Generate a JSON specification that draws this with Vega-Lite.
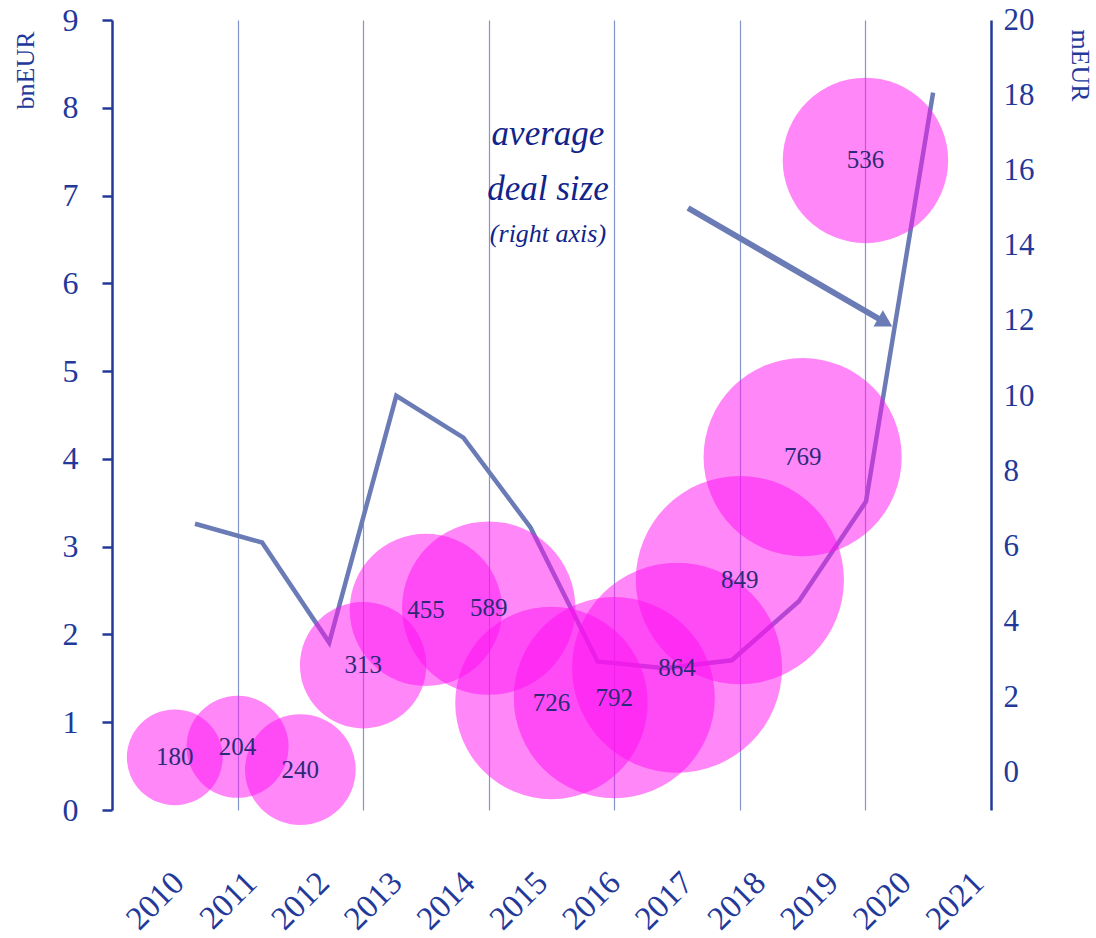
{
  "$schema": "https://vega.github.io/schema/vega-lite/v6.json",
  "width": 879,
  "height": 790,
  "autosize": {"type": "none"},
  "padding": {"left": 112, "top": 20, "right": 105, "bottom": 128},
  "background": "white",
  "config": {"view": {"stroke": null}, "font": "Liberation Serif"},
  "datasets": {
    "deals": [
      {"year": 2010, "value": 0.60, "count": 180, "avg": 6.61},
      {"year": 2011, "value": 0.72, "count": 204, "avg": 6.11},
      {"year": 2012, "value": 0.46, "count": 240, "avg": 3.45},
      {"year": 2013, "value": 1.65, "count": 313, "avg": 10.01},
      {"year": 2014, "value": 2.28, "count": 455, "avg": 8.90},
      {"year": 2015, "value": 2.30, "count": 589, "avg": 6.51},
      {"year": 2016, "value": 1.22, "count": 726, "avg": 2.95},
      {"year": 2017, "value": 1.28, "count": 792, "avg": 2.77},
      {"year": 2018, "value": 1.62, "count": 864, "avg": 2.98},
      {"year": 2019, "value": 2.62, "count": 849, "avg": 4.55},
      {"year": 2020, "value": 4.02, "count": 769, "avg": 7.20},
      {"year": 2021, "value": 7.40, "count": 536, "avg": 18.07}
    ],
    "note": [
      {"x": 2015.944, "y": 7.576, "t": "average"},
      {"x": 2015.944, "y": 6.949, "t": "deal size"}
    ],
    "note2": [
      {"x": 2015.944, "y": 6.471, "t": "(right axis)"}
    ],
    "arrow": [
      {"x": 2018.174, "y": 6.858, "x2": 2021.315, "y2": 5.554}
    ]
  },
  "layer": [
    {
      "data": {"name": "deals"},
      "mark": {"type": "line", "color": "#6a7bb5", "strokeWidth": 4.5},
      "encoding": {
        "x": {"field": "year", "type": "quantitative", "scale": {"domain": [2008.763, 2021.863], "nice": false, "zero": false}, "axis": null},
        "y": {"field": "avg", "type": "quantitative", "scale": {"domain": [-1, 20], "nice": false, "zero": false},
          "axis": {"orient": "right", "values": [0, 2, 4, 6, 8, 10, 12, 14, 16, 18, 20], "ticks": false, "grid": false,
            "domainColor": "#23399a", "domainWidth": 2.5, "labelColor": "#23399a", "labelFontSize": 31, "labelPadding": 12,
            "labelAlign": "left", "labelBaseline": "middle", "labelFont": "Liberation Serif",
            "title": "mEUR", "titleAngle": 90, "titleX": 88, "titleY": 45, "titleAlign": "center", "titleBaseline": "middle",
            "titleFontSize": 26, "titleFontWeight": "normal", "titleColor": "#23399a", "titleFont": "Liberation Serif"}}
      }
    },
    {
      "data": {"name": "deals"},
      "mark": {"type": "circle", "color": "#ff10f2", "opacity": 0.5},
      "encoding": {
        "x": {"field": "year", "type": "quantitative", "scale": {"domain": [2009, 2023], "nice": false, "zero": false},
          "axis": {"orient": "top", "values": [2011, 2013, 2015, 2017, 2019, 2021], "grid": true, "gridColor": "#8595cc", "gridWidth": 1.2,
            "labels": false, "ticks": false, "domain": false, "title": null}},
        "y": {"field": "value", "type": "quantitative", "scale": {"domain": [0, 9], "nice": false, "zero": false},
          "axis": {"orient": "left", "values": [0, 1, 2, 3, 4, 5, 6, 7, 8, 9], "grid": false, "tickSize": 10, "tickWidth": 2.5,
            "tickColor": "#23399a", "domainColor": "#23399a", "domainWidth": 2.5, "labelColor": "#23399a", "labelFontSize": 32,
            "labelPadding": 24, "labelFont": "Liberation Serif",
            "title": "bnEUR", "titleAngle": -90, "titleX": -87, "titleY": 50, "titleAlign": "center", "titleBaseline": "middle",
            "titleFontSize": 26, "titleFontWeight": "normal", "titleColor": "#23399a", "titleFont": "Liberation Serif"}},
        "size": {"field": "count", "type": "quantitative", "scale": {"domain": [0, 864], "range": [0, 44100], "zero": true, "nice": false}, "legend": null}
      }
    },
    {
      "data": {"name": "deals"},
      "mark": {"type": "text", "fontSize": 25, "color": "#2c2a78", "baseline": "middle", "align": "center"},
      "encoding": {
        "x": {"field": "year", "type": "quantitative", "scale": {"domain": [2009, 2023], "nice": false, "zero": false}, "axis": null},
        "y": {"field": "value", "type": "quantitative", "scale": {"domain": [0, 9], "nice": false, "zero": false}, "axis": null},
        "text": {"field": "count", "type": "quantitative"}
      }
    },
    {
      "data": {"name": "note"},
      "mark": {"type": "text", "fontSize": 35, "fontStyle": "italic", "color": "#10248a", "baseline": "alphabetic", "align": "center"},
      "encoding": {
        "x": {"field": "x", "type": "quantitative", "scale": {"domain": [2009, 2023], "nice": false, "zero": false}, "axis": null},
        "y": {"field": "y", "type": "quantitative", "scale": {"domain": [0, 9], "nice": false, "zero": false}, "axis": null},
        "text": {"field": "t"}
      }
    },
    {
      "data": {"name": "note2"},
      "mark": {"type": "text", "fontSize": 26, "fontStyle": "italic", "color": "#10248a", "baseline": "alphabetic", "align": "center"},
      "encoding": {
        "x": {"field": "x", "type": "quantitative", "scale": {"domain": [2009, 2023], "nice": false, "zero": false}, "axis": null},
        "y": {"field": "y", "type": "quantitative", "scale": {"domain": [0, 9], "nice": false, "zero": false}, "axis": null},
        "text": {"field": "t"}
      }
    },
    {
      "data": {"name": "arrow"},
      "mark": {"type": "rule", "color": "#6a7bb5", "strokeWidth": 6},
      "encoding": {
        "x": {"field": "x", "type": "quantitative", "scale": {"domain": [2009, 2023], "nice": false, "zero": false}, "axis": null},
        "y": {"field": "y", "type": "quantitative", "scale": {"domain": [0, 9], "nice": false, "zero": false}, "axis": null},
        "x2": {"field": "x2"},
        "y2": {"field": "y2"}
      }
    },
    {
      "data": {"name": "arrow"},
      "mark": {"type": "point", "shape": "triangle-right", "filled": true, "color": "#6a7bb5", "opacity": 1, "size": 350, "angle": 30},
      "encoding": {
        "x": {"field": "x2", "type": "quantitative", "scale": {"domain": [2009, 2023], "nice": false, "zero": false}, "axis": null},
        "y": {"field": "y2", "type": "quantitative", "scale": {"domain": [0, 9], "nice": false, "zero": false}, "axis": null}
      }
    },
    {
      "data": {"name": "deals"},
      "mark": {"type": "point", "opacity": 0},
      "encoding": {
        "x": {"field": "year", "type": "quantitative", "scale": {"domain": [2009.2435, 2021.334], "nice": false, "zero": false},
          "axis": {"orient": "bottom", "values": [2010, 2011, 2012, 2013, 2014, 2015, 2016, 2017, 2018, 2019, 2020, 2021], "format": "d",
            "labelAngle": -45, "labelAlign": "right", "labelBaseline": "top", "labelPadding": 56, "labelFontSize": 33,
            "labelColor": "#23399a", "labelFont": "Liberation Serif", "labelFlush": false, "labelOverlap": false,
            "ticks": false, "domain": false, "grid": false, "title": null}}
      }
    }
  ],
  "resolve": {"scale": {"x": "independent", "y": "independent", "size": "independent"}}
}
